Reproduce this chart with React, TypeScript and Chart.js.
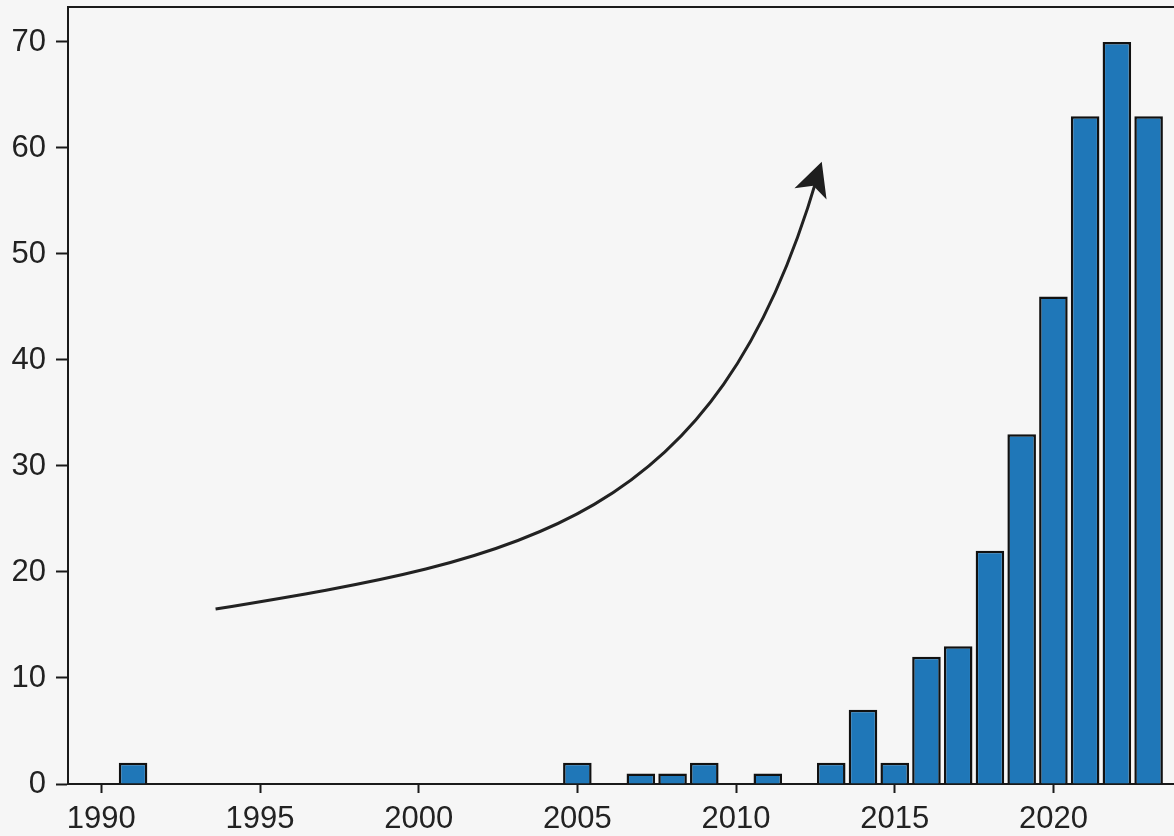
import React, { useEffect, useRef } from "react";
import { Chart, registerables } from "chart.js";

Chart.register(...registerables);

const YEARS = [1991, 2005, 2007, 2008, 2009, 2011, 2013, 2014, 2015, 2016, 2017, 2018, 2019, 2020, 2021, 2022, 2023];
const COUNTS = [2, 2, 1, 1, 2, 1, 2, 7, 2, 12, 13, 22, 33, 46, 63, 70, 63];
const X_TICKS = [1990, 1995, 2000, 2005, 2010, 2015, 2020];
const Y_TICKS = [0, 10, 20, 30, 40, 50, 60, 70];
// Trend arrow (annotation) as cubic bezier control points in data coordinates [year, value]
const ARROW_PATH = [
  [1993.6, 16.5],
  [2003.35, 21.3],
  [2009.4, 25.0],
  [2012.7, 58.7],
];

const FONT = "'Liberation Sans', Arial, Helvetica, sans-serif";
const TEXT = "#222222";
const BG = "#f6f6f6";

const arrowPlugin = {
  id: "trendArrow",
  afterDatasetsDraw(chart: any) {
    const { ctx, scales, chartArea } = chart;
    const xs = scales.x;
    const ys = scales.y;
    const p = ARROW_PATH.map(([a, b]) => [xs.getPixelForValue(a), ys.getPixelForValue(b)]);
    ctx.save();
    // top frame line
    ctx.strokeStyle = "#1a1a1a";
    ctx.lineWidth = 2;
    ctx.beginPath();
    ctx.moveTo(chartArea.left - 1, chartArea.top);
    ctx.lineTo(chartArea.right, chartArea.top);
    ctx.stroke();

    ctx.strokeStyle = "#222";
    ctx.lineWidth = 3;
    ctx.lineCap = "butt";
    const dx = p[3][0] - p[2][0];
    const dy = p[3][1] - p[2][1];
    const len = Math.hypot(dx, dy);
    const ux = dx / len;
    const uy = dy / len;
    const end = [p[3][0] - ux * 16, p[3][1] - uy * 16];
    ctx.beginPath();
    ctx.moveTo(p[0][0], p[0][1]);
    ctx.bezierCurveTo(p[1][0], p[1][1], p[2][0] - ux * 6, p[2][1] - uy * 6, end[0], end[1]);
    ctx.stroke();
    // arrow head
    const tip = [p[3][0], p[3][1]];
    const hx = 0.33;
    const hy = -0.944;
    const headLen = 34;
    const halfW = 17;
    const nx = -hy;
    const ny = hx;
    const base = [tip[0] - hx * headLen, tip[1] - hy * headLen];
    const notch = [tip[0] - hx * headLen * 0.75, tip[1] - hy * headLen * 0.75];
    ctx.fillStyle = "#1e1e1e";
    ctx.beginPath();
    ctx.moveTo(tip[0], tip[1]);
    ctx.lineTo(base[0] + nx * halfW, base[1] + ny * halfW);
    ctx.lineTo(notch[0], notch[1]);
    ctx.lineTo(base[0] - nx * halfW, base[1] - ny * halfW);
    ctx.closePath();
    ctx.fill();
    ctx.restore();
  },
};

const bgPlugin = {
  id: "bg",
  beforeDraw(chart: any) {
    const { ctx, width, height } = chart;
    ctx.save();
    ctx.fillStyle = BG;
    ctx.fillRect(0, 0, width, height);
    ctx.restore();
  },
};

export default function App() {
  const ref = useRef<HTMLCanvasElement>(null);
  useEffect(() => {
    if (!ref.current) return;
    const chart = new Chart(ref.current, {
      type: "bar",
      data: {
        datasets: [
          {
            data: YEARS.map((y, i) => ({ x: y, y: COUNTS[i] })),
            backgroundColor: "#1f77b8",
            borderColor: "#111",
            borderWidth: 2.5,
            barPercentage: 0.9,
            categoryPercentage: 1,
          },
        ],
      },
      options: {
        responsive: false,
        animation: false,
        devicePixelRatio: 1,
        layout: { padding: { top: 7, left: 0, right: 0, bottom: 0 } },
        plugins: { legend: { display: false }, tooltip: { enabled: false } },
        scales: {
          x: {
            type: "linear",
            min: 1988.95,
            max: 2023.8,
            offset: false,
            afterBuildTicks: (s: any) => {
              s.ticks = X_TICKS.map((v) => ({ value: v }));
            },
            afterFit: (s: any) => {
              s.height = 52;
              s.paddingLeft = 0;
              s.paddingRight = 0;
            },
            ticks: {
              callback: (v: any) => String(v),
              font: { family: FONT, size: 31 },
              color: TEXT,
              padding: 8,
              maxRotation: 0,
              autoSkip: false,
            },
            grid: {
              offset: false,
              drawOnChartArea: false,
              drawTicks: true,
              tickLength: 9,
              tickColor: "#1a1a1a",
              tickWidth: 2,
            },
            border: { display: true, color: "#1a1a1a", width: 2 },
          },
          y: {
            min: 0,
            max: 73.3,
            afterBuildTicks: (s: any) => {
              s.ticks = Y_TICKS.map((v) => ({ value: v }));
            },
            afterFit: (s: any) => {
              s.width = 68;
              s.paddingTop = 0;
              s.paddingBottom = 0;
            },
            ticks: {
              font: { family: FONT, size: 31 },
              color: TEXT,
              padding: 10,
            },
            grid: {
              offset: false,
              drawOnChartArea: false,
              drawTicks: true,
              tickLength: 12,
              tickColor: "#1a1a1a",
              tickWidth: 2,
            },
            border: { display: true, color: "#1a1a1a", width: 2 },
          },
        },
      },
      plugins: [bgPlugin, arrowPlugin],
    });
    return () => chart.destroy();
  }, []);
  return (
    <div style={{ position: "absolute", left: 0, top: 0, width: 1174, height: 836, background: BG }}>
      <canvas ref={ref} width={1174} height={836} style={{ display: "block", width: 1174, height: 836 }} />
    </div>
  );
}
